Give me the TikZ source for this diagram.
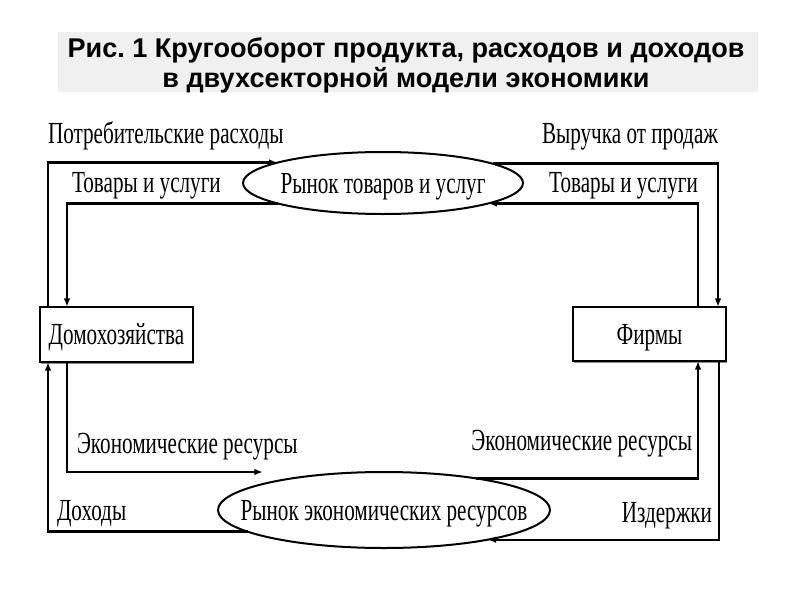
\documentclass[tikz,border=0pt]{standalone}
\usepackage{fontspec}
\setmainfont{Liberation Serif}
\newfontfamily\condfont[FakeStretch=0.69]{Liberation Serif}
\newfontfamily\titlefont{Liberation Sans}
\usetikzlibrary{arrows.meta,shapes.geometric,shadows}
\begin{document}
\begin{tikzpicture}[x=0.75pt,y=-0.75pt,
 flow/.style={line width=1.8pt, draw=black},
 arr/.style={flow,-{Latex[length=6.5pt,width=5pt]}},
 lab/.style={font=\condfont\fontsize{23}{26}\selectfont, inner sep=0pt, outer sep=0pt},
 sector/.style={draw, line width=1.4pt, fill=white, rectangle, inner sep=0pt, outer sep=0pt,
   minimum width=114.75pt, font=\condfont\fontsize{23}{26}\selectfont, text height=15pt, text depth=0pt,
   drop shadow={shadow xshift=0.6pt, shadow yshift=-1.5pt, fill=black!45, opacity=1}},
 market/.style={draw, ellipse, line width=1.5pt, inner sep=0pt, outer sep=0pt,
   font=\condfont\fontsize{23}{26}\selectfont, text height=15pt, text depth=0pt},
 titlebg/.style={fill=black!6}
]
\useasboundingbox (0,0) rectangle (800,600);
\fill[titlebg] (58,32) rectangle (758,92);
\node[inner sep=0pt, align=center, anchor=base,
  font=\titlefont\bfseries\fontsize{20.3}{22}\selectfont] (title) at (406,87)
  {Рис.\ 1 Кругооборот продукта, расходов и доходов\\в двухсекторной модели экономики};

\node[sector, minimum height=41.25pt] (hh) at (116.5,334.5) {Домохозяйства};
\node[sector, minimum height=40.5pt] (fm) at (649.5,334) {Фирмы};
\node[market, minimum width=210pt, minimum height=46.5pt] (gm) at (383,183) {\makebox[0pt]{Рынок товаров и услуг}};
\node[market, minimum width=249pt, minimum height=57pt] (rm) at (384,510) {\makebox[0pt]{Рынок экономических ресурсов}};

\draw[arr] ([shift={(8,0)}]hh.north west) |- (gm.169.4);
\draw[arr] (gm.191.5) -| ([shift={(27,0)}]hh.north west);
\draw[arr] (gm.10.6) -| ([shift={(-8,0)}]fm.north east);
\draw[arr] ([shift={(-28,0)}]fm.north east) |- (gm.-11.5);
\draw[arr] ([shift={(27,0)}]hh.south west) |- ([shift={(-121,0)}]rm.north);
\draw[arr] (rm.19.7) -| ([shift={(-28,0)}]fm.south east);
\draw[arr] (rm.189.3) -| ([shift={(8,0)}]hh.south west);
\draw[arr] ([shift={(-7,0)}]fm.south east) |- (rm.-16.4);

\node[lab, anchor=base west] (l1) at (48,143) {Потребительские расходы};
\node[lab, anchor=base west] (l2) at (72,192) {Товары и услуги};
\node[lab, anchor=base east] (l3) at (718,143) {Выручка от продаж};
\node[lab, anchor=base east] (l4) at (698,192) {Товары и услуги};
\node[lab, anchor=base west] (l5) at (77,453) {Экономические ресурсы};
\node[lab, anchor=base east] (l6) at (692,450) {Экономические ресурсы};
\node[lab, anchor=base west] (l7) at (57,520) {Доходы};
\node[lab, anchor=base east] (l8) at (712,522) {Издержки};
\end{tikzpicture}
\end{document}
